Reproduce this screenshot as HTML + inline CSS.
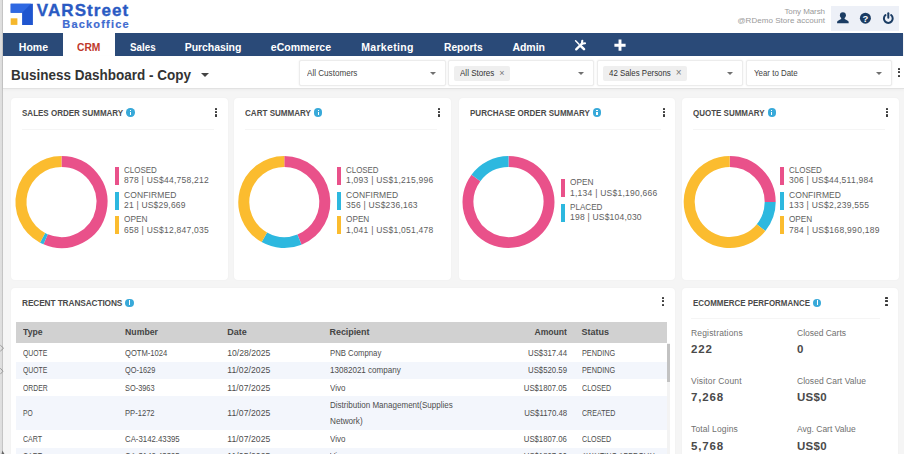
<!DOCTYPE html>
<html><head><meta charset="utf-8"><title>Dashboard</title>
<style>
*{box-sizing:border-box;margin:0;padding:0}
html,body{width:904px;height:454px;overflow:hidden;background:#f5f5f5;font-family:"Liberation Sans",sans-serif;}
body{position:relative}
.abs{position:absolute;white-space:nowrap}
#leftstrip{left:0;top:0;width:3.400px;height:454px;background:linear-gradient(90deg,#e0e0e0 0,#dcdcdc 2.100px,#c4c4c4 2.300px,#c8c8c8 3.400px)}
#header{left:3px;top:0;width:901px;height:34px;background:#fff}
#nav{left:3px;top:33.400px;width:900px;height:22.900px;background:#2a4a78}
.ni{position:absolute;top:35px;height:23px;line-height:25px;color:#fff;font-weight:bold;font-size:10.5px;white-space:nowrap}
#titlebar{left:3px;top:56.300px;width:901px;height:33.200px;background:#fff;border-bottom:1px solid #e2e2e2;box-shadow:0 1px 3px rgba(0,0,0,.04)}
.dd{position:absolute;top:60px;height:26px;background:#fff;border:1px solid #ececec;border-radius:2px;font-size:9px;color:#444;line-height:24.500px;box-shadow:0 0 2px rgba(0,0,0,.08)}
.dd .car{position:absolute;right:9px;top:10.500px;width:0;height:0;border-left:3.200px solid transparent;border-right:3.200px solid transparent;border-top:3.300px solid #707070}
.dd .tx{position:absolute;left:7px;top:0}
.chip{position:absolute;left:5px;top:5px;height:14.500px;line-height:14.500px;background:#efefef;border-radius:2px;padding:0 5px 0 6px;color:#333;white-space:nowrap}
.chip s{text-decoration:none;color:#777;margin-left:5px}
.card{position:absolute;background:#fff;border-radius:4px;box-shadow:0 0 2px rgba(0,0,0,.045)}
.ct{position:absolute;left:11px;top:11.600px;font-size:8.300px;line-height:9.500px;font-weight:bold;color:#4a4a4a;white-space:nowrap;display:flex;align-items:center}
.info{display:inline-block;width:8.400px;height:8.400px;border-radius:50%;background:#38a9d9;margin-left:3px;position:relative;top:-.700px;flex:none}
.info:after{content:"";position:absolute;left:3.500px;top:3.600px;width:1.400px;height:3px;background:#fff}
.info:before{content:"";position:absolute;left:3.500px;top:1.600px;width:1.400px;height:1.300px;background:#fff}
.kb{position:absolute;right:10.500px;top:10.300px;width:2.200px}
.kb i{display:block;width:2.200px;height:2.200px;background:#3a3a3a;margin-bottom:1.100px;border-radius:.600px}
.hr{position:absolute;left:11px;right:14px;top:32px;height:1px;background:#f5f5f5}
.r1 .ct{top:10.800px}.r1 .kb{top:10px}.r1 .hr{top:31.200px}
.lg1,.lg2{font-size:8.5px;line-height:11px;color:#5e5e5e}
.lg2{color:#606060}
.th{font-size:9px;line-height:11px;font-weight:bold;color:#444}
.td{font-size:8.6px;line-height:16.5px;color:#4d4d4d}
.el{font-size:8.5px;line-height:10px;color:#707070}
.ev{font-size:11.500px;line-height:14px;color:#4a4a4a;font-weight:bold}
</style></head><body>

<div id="leftstrip" class="abs"></div>
<div id="header" class="abs"></div>
<svg class="abs" style="left:0;top:340px;z-index:5" width="8" height="114" viewBox="0 0 8 114"><g fill="none" stroke="#8a8a8a" stroke-width=".8"><path d="M.3 5.200L3.600 8.200L.3 11.200"/><path d="M.3 28.200L3 31.200L.3 34.200"/></g><path d="M1.500 114L2.500 110.500L3.500 112.500L4.500 114Z" fill="#666"/></svg>
<svg class="abs" style="left:0;top:0" width="40" height="34" viewBox="0 0 40 34">
<path d="M10.7 3.7H32.9V24.9H22.1V12.7H10.7Z" fill="#1f55cf"/>
<path d="M10.7 3.7H31V3.7L22.1 12.7H10.7Z" fill="#2f68e2"/>
<rect x="10.7" y="18.3" width="6.7" height="6.6" fill="#f5b72c"/>
</svg>
<div class="abs" id="lg1" style="left:36.8px;top:2.2px;font-size:17px;line-height:18px;font-weight:bold;color:#2a5ac3;-webkit-text-stroke:.35px #2a5ac3"><span style="letter-spacing:1.084px">VARStreet</span></div>
<div class="abs" id="lg2" style="left:62.3px;top:18.1px;font-size:11px;line-height:13px;font-weight:bold;color:#3f6bd0;-webkit-text-stroke:.2px #3f6bd0"><span style="letter-spacing:1.184px">Backoffice</span></div>
<div class="abs" id="un1" style="right:79px;top:6.5px;font-size:8px;line-height:10px;color:#9a9a9a"><span style="letter-spacing:-0.073px">Tony Marsh</span></div>
<div class="abs" id="un2" style="right:79px;top:15.5px;font-size:8px;line-height:10px;color:#9a9a9a"><span style="letter-spacing:0.035px">@RDemo Store account</span></div>
<div class="abs" style="left:831px;top:5.5px;width:68px;height:25.5px;background:#edf0f7"></div>
<svg class="abs" style="left:831px;top:5px" width="70" height="27" viewBox="0 0 70 27">
<g fill="#1b3c63">
<circle cx="11.9" cy="10.3" r="3"/>
<path d="M10.2 11.5h3.4v2.2c0 .8 2.8 1.4 3.6 2.3.5.6.5 1.5.5 2.2H6.1c0-.7 0-1.6.5-2.2.8-.9 3.6-1.5 3.6-2.3z"/>
<circle cx="34.4" cy="13.2" r="5.5"/>
<path d="M57.3 8.2v4.6" stroke="#1b3c63" stroke-width="2" fill="none" stroke-linecap="round"/>
<path d="M54.5 10.1a4.4 4.4 0 1 0 5.6 0" stroke="#1b3c63" stroke-width="2" fill="none" stroke-linecap="round"/>
</g>
<text x="34.4" y="16.6" font-family="Liberation Sans" font-weight="bold" font-size="9.5" fill="#fff" text-anchor="middle">?</text>
</svg>
<div id="nav" class="abs"></div>
<div class="abs" style="left:62.600px;top:33.400px;width:52.500px;height:23.300px;background:#fff"></div>
<div class="ni" id="n1" style="left:18.8px"><span style="letter-spacing:0.004px">Home</span></div>
<div class="ni" id="n2" style="left:77px;color:#c0392b"><span style="display:inline-block;transform:scaleX(0.9782);transform-origin:left center;margin-right:-0.52px">CRM</span></div>
<div class="ni" id="n3" style="left:129.7px"><span style="display:inline-block;transform:scaleX(0.9325);transform-origin:left center;margin-right:-1.85px">Sales</span></div>
<div class="ni" id="n4" style="left:184.7px"><span style="letter-spacing:-0.054px">Purchasing</span></div>
<div class="ni" id="n5" style="left:270.8px"><span style="letter-spacing:0.009px">eCommerce</span></div>
<div class="ni" id="n6" style="left:361.2px"><span style="letter-spacing:0.338px">Marketing</span></div>
<div class="ni" id="n7" style="left:443.6px"><span style="display:inline-block;transform:scaleX(0.9751);transform-origin:left center;margin-right:-0.99px">Reports</span></div>
<div class="ni" id="n8" style="left:512.4px"><span style="letter-spacing:-0.018px">Admin</span></div>
<svg class="abs" style="left:574px;top:39px" width="13" height="13" viewBox="0 0 13 13"><g stroke="#fff" stroke-linecap="round" fill="none"><path d="M1.6 1.8L5 5.2" stroke-width="1.5"/><path d="M6.6 6.8L10 10.2" stroke-width="2.6"/><path d="M8 4.600L2.200 10.400" stroke-width="2.3"/><path d="M8.300 1.700L7.900 4.700L11 4.300" stroke-width="2.100" stroke-linejoin="round"/></g></svg>
<svg class="abs" style="left:614px;top:39px" width="12" height="13" viewBox="0 0 12 13"><path d="M6 .6v11.2M.4 6.2h11.2" stroke="#fff" stroke-width="2.9" fill="none"/></svg>
<div id="titlebar" class="abs"></div>
<div class="abs" id="ttl" style="left:11px;top:65.500px;font-size:15px;line-height:18px;font-weight:bold;color:#333"><span style="display:inline-block;transform:scaleX(0.8998);transform-origin:left center;margin-right:-20.05px">Business Dashboard - Copy</span></div>
<div class="abs" style="left:201px;top:73px;width:0;height:0;border-left:4px solid transparent;border-right:4px solid transparent;border-top:4.5px solid #444"></div>
<div class="dd" style="left:299px;width:147px"><span class="tx" id="d1"><span style="display:inline-block;transform:scaleX(0.8997);transform-origin:left center;margin-right:-5.62px">All Customers</span></span><i class="car"></i></div>
<div class="dd" style="left:448px;width:146px"><span class="chip" id="d2"><span style="display:inline-block;transform:scaleX(0.8905);transform-origin:left center;margin-right:-4.22px">All Stores</span><s>×</s></span><i class="car"></i></div>
<div class="dd" style="left:597px;width:146px"><span class="chip" id="d3"><span style="display:inline-block;transform:scaleX(0.876);transform-origin:left center;margin-right:-8.75px">42 Sales Persons</span><s style="font-size:10px">×</s></span><i class="car"></i></div>
<div class="dd" style="left:746px;width:146px"><span class="tx" id="d4"><span style="display:inline-block;transform:scaleX(0.8792);transform-origin:left center;margin-right:-6.0px">Year to Date</span></span><i class="car"></i></div>
<div class="abs kb" style="left:897.5px;top:68px;right:auto"><i></i><i></i><i></i></div>
<div class="card r1" style="left:11px;top:97.800px;width:216.500px;height:182.200px"><div class="ct"><span style="display:inline-block;transform:scaleX(0.9657);transform-origin:left center;margin-right:-3.6px">SALES ORDER SUMMARY</span><span class="info"></span></div><div class="kb"><i></i><i></i><i></i></div><div class="hr"></div></div>
<div class="abs" style="left:115px;top:167.1px;width:4px;height:18px;background:#e9518a"></div><div class="abs lg1" style="left:124px;top:164.9px"><span style="display:inline-block;transform:scaleX(0.9408);transform-origin:left center;margin-right:-2.07px">CLOSED</span></div><div class="abs lg2" style="left:124px;top:175.4px"><span style="letter-spacing:0.255px">878 | US$44,758,212</span></div><div class="abs" style="left:115px;top:191.7px;width:4px;height:18px;background:#2db8df"></div><div class="abs lg1" style="left:124px;top:189.5px"><span style="letter-spacing:0.114px">CONFIRMED</span></div><div class="abs lg2" style="left:124px;top:200.0px"><span style="letter-spacing:0.198px">21 | US$29,669</span></div><div class="abs" style="left:115px;top:216.3px;width:4px;height:18px;background:#fbbc2f"></div><div class="abs lg1" style="left:124px;top:214.1px"><span style="display:inline-block;transform:scaleX(0.9754);transform-origin:left center;margin-right:-0.59px">OPEN</span></div><div class="abs lg2" style="left:124px;top:224.6px"><span style="letter-spacing:0.255px">658 | US$12,847,035</span></div>
<div class="card r1" style="left:234px;top:97.800px;width:216.500px;height:182.200px"><div class="ct"><span style="display:inline-block;transform:scaleX(0.9717);transform-origin:left center;margin-right:-1.92px">CART SUMMARY</span><span class="info"></span></div><div class="kb"><i></i><i></i><i></i></div><div class="hr"></div></div>
<div class="abs" style="left:337px;top:167.1px;width:4px;height:18px;background:#e9518a"></div><div class="abs lg1" style="left:346px;top:164.9px"><span style="display:inline-block;transform:scaleX(0.9323);transform-origin:left center;margin-right:-2.37px">CLOSED</span></div><div class="abs lg2" style="left:346px;top:175.4px"><span style="letter-spacing:0.249px">1,093 | US$1,215,996</span></div><div class="abs" style="left:337px;top:191.7px;width:4px;height:18px;background:#2db8df"></div><div class="abs lg1" style="left:346px;top:189.5px"><span style="letter-spacing:0.089px">CONFIRMED</span></div><div class="abs lg2" style="left:346px;top:200.0px"><span style="letter-spacing:0.215px">356 | US$236,163</span></div><div class="abs" style="left:337px;top:216.3px;width:4px;height:18px;background:#fbbc2f"></div><div class="abs lg1" style="left:346px;top:214.1px"><span style="display:inline-block;transform:scaleX(0.9671);transform-origin:left center;margin-right:-0.79px">OPEN</span></div><div class="abs lg2" style="left:346px;top:224.6px"><span style="letter-spacing:0.249px">1,041 | US$1,051,478</span></div>
<div class="card r1" style="left:458.8px;top:97.800px;width:216.500px;height:182.200px"><div class="ct"><span style="display:inline-block;transform:scaleX(0.9701);transform-origin:left center;margin-right:-3.7px">PURCHASE ORDER SUMMARY</span><span class="info"></span></div><div class="kb"><i></i><i></i><i></i></div><div class="hr"></div></div>
<div class="abs" style="left:561.0px;top:179.4px;width:4px;height:18px;background:#e9518a"></div><div class="abs lg1" style="left:570.0px;top:177.2px"><span style="display:inline-block;transform:scaleX(0.9754);transform-origin:left center;margin-right:-0.59px">OPEN</span></div><div class="abs lg2" style="left:570.0px;top:187.7px"><span style="letter-spacing:0.249px">1,134 | US$1,190,666</span></div><div class="abs" style="left:561.0px;top:204.0px;width:4px;height:18px;background:#2db8df"></div><div class="abs lg1" style="left:570.0px;top:201.8px"><span style="display:inline-block;transform:scaleX(0.9525);transform-origin:left center;margin-right:-1.62px">PLACED</span></div><div class="abs lg2" style="left:570.0px;top:212.3px"><span style="letter-spacing:0.215px">198 | US$104,030</span></div>
<div class="card r1" style="left:682px;top:97.800px;width:216.500px;height:182.200px"><div class="ct"><span style="display:inline-block;transform:scaleX(0.9613);transform-origin:left center;margin-right:-2.88px">QUOTE SUMMARY</span><span class="info"></span></div><div class="kb"><i></i><i></i><i></i></div><div class="hr"></div></div>
<div class="abs" style="left:780px;top:167.1px;width:4px;height:18px;background:#e9518a"></div><div class="abs lg1" style="left:789px;top:164.9px"><span style="display:inline-block;transform:scaleX(0.9408);transform-origin:left center;margin-right:-2.07px">CLOSED</span></div><div class="abs lg2" style="left:789px;top:175.4px"><span style="letter-spacing:0.263px">306 | US$44,511,984</span></div><div class="abs" style="left:780px;top:191.7px;width:4px;height:18px;background:#2db8df"></div><div class="abs lg1" style="left:789px;top:189.5px"><span style="letter-spacing:0.064px">CONFIRMED</span></div><div class="abs lg2" style="left:789px;top:200.0px"><span style="letter-spacing:0.267px">133 | US$2,239,555</span></div><div class="abs" style="left:780px;top:216.3px;width:4px;height:18px;background:#fbbc2f"></div><div class="abs lg1" style="left:789px;top:214.1px"><span style="display:inline-block;transform:scaleX(0.9629);transform-origin:left center;margin-right:-0.89px">OPEN</span></div><div class="abs lg2" style="left:789px;top:224.6px"><span style="letter-spacing:0.299px">784 | US$168,990,189</span></div>
<svg class="abs" style="left:0;top:0" width="904" height="454" viewBox="0 0 904 454"><path d="M61.50 161.50A40.5 40.5 0 1 1 45.67 239.28" stroke="#e9518a" stroke-width="11" fill="none"/><path d="M45.67 239.28A40.5 40.5 0 0 1 42.57 237.81" stroke="#2db8df" stroke-width="11" fill="none"/><path d="M42.57 237.81A40.5 40.5 0 0 1 61.50 161.50" stroke="#fbbc2f" stroke-width="11" fill="none"/><path d="M284.30 161.50A40.5 40.5 0 0 1 299.46 239.56" stroke="#e9518a" stroke-width="11" fill="none"/><path d="M299.46 239.56A40.5 40.5 0 0 1 264.36 237.25" stroke="#2db8df" stroke-width="11" fill="none"/><path d="M264.36 237.25A40.5 40.5 0 0 1 284.30 161.50" stroke="#fbbc2f" stroke-width="11" fill="none"/><path d="M508.50 161.50A40.5 40.5 0 1 1 475.94 177.92" stroke="#e9518a" stroke-width="11" fill="none"/><path d="M475.94 177.92A40.5 40.5 0 0 1 508.50 161.50" stroke="#2db8df" stroke-width="11" fill="none"/><path d="M729.70 161.50A40.5 40.5 0 0 1 770.20 202.05" stroke="#e9518a" stroke-width="11" fill="none"/><path d="M770.20 202.05A40.5 40.5 0 0 1 761.07 227.61" stroke="#2db8df" stroke-width="11" fill="none"/><path d="M761.07 227.61A40.5 40.5 0 1 1 729.70 161.50" stroke="#fbbc2f" stroke-width="11" fill="none"/></svg>
<div class="card" style="left:11px;top:287.600px;width:663.700px;height:180px"><div class="ct" style="top:11.300px"><span style="letter-spacing:-0.108px">RECENT TRANSACTIONS</span><span class="info"></span></div><div class="kb" style="top:9.400px"><i></i><i></i><i></i></div></div>
<div class="abs" style="left:15.600px;top:321.700px;width:651.400px;height:21.500px;background:#d1d1d1"></div><div class="abs th" style="left:23.1px;top:327px"><span style="display:inline-block;transform:scaleX(0.9585);transform-origin:left center;margin-right:-0.84px">Type</span></div><div class="abs th" style="left:125.3px;top:327px"><span style="display:inline-block;transform:scaleX(0.9701);transform-origin:left center;margin-right:-1.02px">Number</span></div><div class="abs th" style="left:227.3px;top:327px"><span style="letter-spacing:-0.005px">Date</span></div><div class="abs th" style="left:329.5px;top:327px"><span style="letter-spacing:-0.064px">Recipient</span></div><div class="abs th" style="right:337px;top:327px"><span style="display:inline-block;transform:scaleX(0.9588);transform-origin:right center;margin-left:-1.4px">Amount</span></div><div class="abs th" style="left:581.6px;top:327px"><span style="letter-spacing:-0.043px">Status</span></div>
<div class="abs" style="left:15.6px;top:343.2px;width:651.4px;height:18.6px;background:#fff"></div><div class="abs td" style="left:23.1px;top:344.6px"><span style="display:inline-block;transform:scaleX(0.7951);transform-origin:left center;margin-right:-6.26px">QUOTE</span></div><div class="abs td" style="left:125.3px;top:344.6px"><span style="display:inline-block;transform:scaleX(0.8856);transform-origin:left center;margin-right:-5.47px">QOTM-1024</span></div><div class="abs td" style="left:227.3px;top:344.6px"><span style="letter-spacing:-0.002px">10/28/2025</span></div><div class="abs td" style="left:329.5px;top:344.6px"><span style="display:inline-block;transform:scaleX(0.9025);transform-origin:left center;margin-right:-5.54px">PNB Compnay</span></div><div class="abs td" style="right:337px;top:344.6px"><span style="display:inline-block;transform:scaleX(0.9066);transform-origin:right center;margin-left:-4.02px">US$317.44</span></div><div class="abs td" style="left:581.6px;top:344.6px"><span style="display:inline-block;transform:scaleX(0.8504);transform-origin:left center;margin-right:-5.86px">PENDING</span></div>
<div class="abs" style="left:15.6px;top:361.7px;width:651.4px;height:17.1px;background:#f3f6fc"></div><div class="abs td" style="left:23.1px;top:362.3px"><span style="display:inline-block;transform:scaleX(0.7951);transform-origin:left center;margin-right:-6.26px">QUOTE</span></div><div class="abs td" style="left:125.3px;top:362.3px"><span style="display:inline-block;transform:scaleX(0.8569);transform-origin:left center;margin-right:-5.06px">QO-1629</span></div><div class="abs td" style="left:227.3px;top:362.3px"><span style="letter-spacing:0.069px">11/02/2025</span></div><div class="abs td" style="left:329.5px;top:362.3px"><span style="display:inline-block;transform:scaleX(0.9377);transform-origin:left center;margin-right:-4.7px">13082021 company</span></div><div class="abs td" style="right:337px;top:362.3px"><span style="display:inline-block;transform:scaleX(0.9066);transform-origin:right center;margin-left:-4.02px">US$520.59</span></div><div class="abs td" style="left:581.6px;top:362.3px"><span style="display:inline-block;transform:scaleX(0.8504);transform-origin:left center;margin-right:-5.86px">PENDING</span></div>
<div class="abs" style="left:15.6px;top:378.7px;width:651.4px;height:17.6px;background:#fff"></div><div class="abs td" style="left:23.1px;top:379.6px"><span style="display:inline-block;transform:scaleX(0.7956);transform-origin:left center;margin-right:-6.35px">ORDER</span></div><div class="abs td" style="left:125.3px;top:379.6px"><span style="display:inline-block;transform:scaleX(0.8603);transform-origin:left center;margin-right:-4.81px">SO-3963</span></div><div class="abs td" style="left:227.3px;top:379.6px"><span style="letter-spacing:0.069px">11/07/2025</span></div><div class="abs td" style="left:329.5px;top:379.6px"><span style="display:inline-block;transform:scaleX(0.9298);transform-origin:left center;margin-right:-1.16px">Vivo</span></div><div class="abs td" style="right:337px;top:379.6px"><span style="display:inline-block;transform:scaleX(0.8996);transform-origin:right center;margin-left:-4.8px">US$1807.05</span></div><div class="abs td" style="left:581.6px;top:379.6px"><span style="display:inline-block;transform:scaleX(0.8262);transform-origin:left center;margin-right:-6.14px">CLOSED</span></div>
<div class="abs" style="left:15.6px;top:396.2px;width:651.4px;height:33.5px;background:#f3f6fc"></div><div class="abs td" style="left:23.1px;top:405.0px"><span style="display:inline-block;transform:scaleX(0.7809);transform-origin:left center;margin-right:-2.72px">PO</span></div><div class="abs td" style="left:125.3px;top:405.0px"><span style="display:inline-block;transform:scaleX(0.8848);transform-origin:left center;margin-right:-3.85px">PP-1272</span></div><div class="abs td" style="left:227.3px;top:405.0px"><span style="letter-spacing:0.069px">11/07/2025</span></div><div class="abs td" style="left:329.5px;top:396.8px"><span style="display:inline-block;transform:scaleX(0.9347);transform-origin:left center;margin-right:-8.58px">Distribution Management(Supplies</span><br><span style="display:inline-block;transform:scaleX(0.9479);transform-origin:left center;margin-right:-1.79px">Network)</span></div><div class="abs td" style="right:337px;top:405.0px"><span style="display:inline-block;transform:scaleX(0.9119);transform-origin:right center;margin-left:-4.16px">US$1170.48</span></div><div class="abs td" style="left:581.6px;top:405.0px"><span style="display:inline-block;transform:scaleX(0.8235);transform-origin:left center;margin-right:-7.14px">CREATED</span></div>
<div class="abs" style="left:15.6px;top:429.6px;width:651.4px;height:18.0px;background:#fff"></div><div class="abs td" style="left:23.1px;top:430.7px"><span style="display:inline-block;transform:scaleX(0.8215);transform-origin:left center;margin-right:-4.15px">CART</span></div><div class="abs td" style="left:125.3px;top:430.7px"><span style="display:inline-block;transform:scaleX(0.9086);transform-origin:left center;margin-right:-5.5px">CA-3142.43395</span></div><div class="abs td" style="left:227.3px;top:430.7px"><span style="letter-spacing:0.069px">11/07/2025</span></div><div class="abs td" style="left:329.5px;top:430.7px"><span style="display:inline-block;transform:scaleX(0.9298);transform-origin:left center;margin-right:-1.16px">Vivo</span></div><div class="abs td" style="right:337px;top:430.7px"><span style="display:inline-block;transform:scaleX(0.8996);transform-origin:right center;margin-left:-4.8px">US$1807.06</span></div><div class="abs td" style="left:581.6px;top:430.7px"><span style="display:inline-block;transform:scaleX(0.8262);transform-origin:left center;margin-right:-6.14px">CLOSED</span></div>
<div class="abs" style="left:15.6px;top:447.5px;width:651.4px;height:17.6px;background:#f3f6fc"></div><div class="abs td" style="left:23.1px;top:448.4px"><span style="display:inline-block;transform:scaleX(0.8215);transform-origin:left center;margin-right:-4.15px">CART</span></div><div class="abs td" style="left:125.3px;top:448.4px"><span style="display:inline-block;transform:scaleX(0.9086);transform-origin:left center;margin-right:-5.5px">CA-3142.43395</span></div><div class="abs td" style="left:227.3px;top:448.4px"><span style="letter-spacing:0.069px">11/05/2025</span></div><div class="abs td" style="left:329.5px;top:448.4px"><span style="display:inline-block;transform:scaleX(0.9298);transform-origin:left center;margin-right:-1.16px">Vivo</span></div><div class="abs td" style="right:337px;top:448.4px"><span style="display:inline-block;transform:scaleX(0.8996);transform-origin:right center;margin-left:-4.8px">US$1807.06</span></div><div class="abs td" style="left:581.6px;top:448.4px"><span style="display:inline-block;transform:scaleX(0.8383);transform-origin:left center;margin-right:-14.47px">AWAITING APPROVAL</span></div><div class="abs" style="left:667px;top:343px;width:3.300px;height:111px;background:#f3f3f3"></div><div class="abs" style="left:667px;top:343.700px;width:3.300px;height:38.300px;background:#c2c2c2"></div>
<div class="card" style="left:682px;top:287.600px;width:216px;height:180px"><div class="ct" style="top:11.300px"><span style="display:inline-block;transform:scaleX(0.9578);transform-origin:left center;margin-right:-5.16px">ECOMMERCE PERFORMANCE</span><span class="info"></span></div><div class="kb" style="top:9.400px"><i></i><i></i><i></i></div><div class="hr" style="top:30.400px;left:9px;right:18.500px"></div></div>
<div class="abs el" style="left:691px;top:328.0px"><span style="letter-spacing:0.174px">Registrations</span></div><div class="abs ev" style="left:691px;top:342.2px"><span style="letter-spacing:0.906px">222</span></div><div class="abs el" style="left:797px;top:328.0px"><span style="letter-spacing:-0.013px">Closed Carts</span></div><div class="abs ev" style="left:797px;top:342.2px"><span style="letter-spacing:0px">0</span></div><div class="abs el" style="left:691px;top:376.2px"><span style="letter-spacing:0.174px">Visitor Count</span></div><div class="abs ev" style="left:691px;top:390.4px"><span style="letter-spacing:0.855px">7,268</span></div><div class="abs el" style="left:797px;top:376.2px"><span style="letter-spacing:0.034px">Closed Cart Value</span></div><div class="abs ev" style="left:797px;top:390.4px"><span style="letter-spacing:0.273px">US$0</span></div><div class="abs el" style="left:691px;top:424.4px"><span style="letter-spacing:0.13px">Total Logins</span></div><div class="abs ev" style="left:691px;top:438.6px"><span style="letter-spacing:0.855px">5,768</span></div><div class="abs el" style="left:797px;top:424.4px"><span style="letter-spacing:0.004px">Avg. Cart Value</span></div><div class="abs ev" style="left:797px;top:438.6px"><span style="letter-spacing:0.273px">US$0</span></div>
</body></html>
